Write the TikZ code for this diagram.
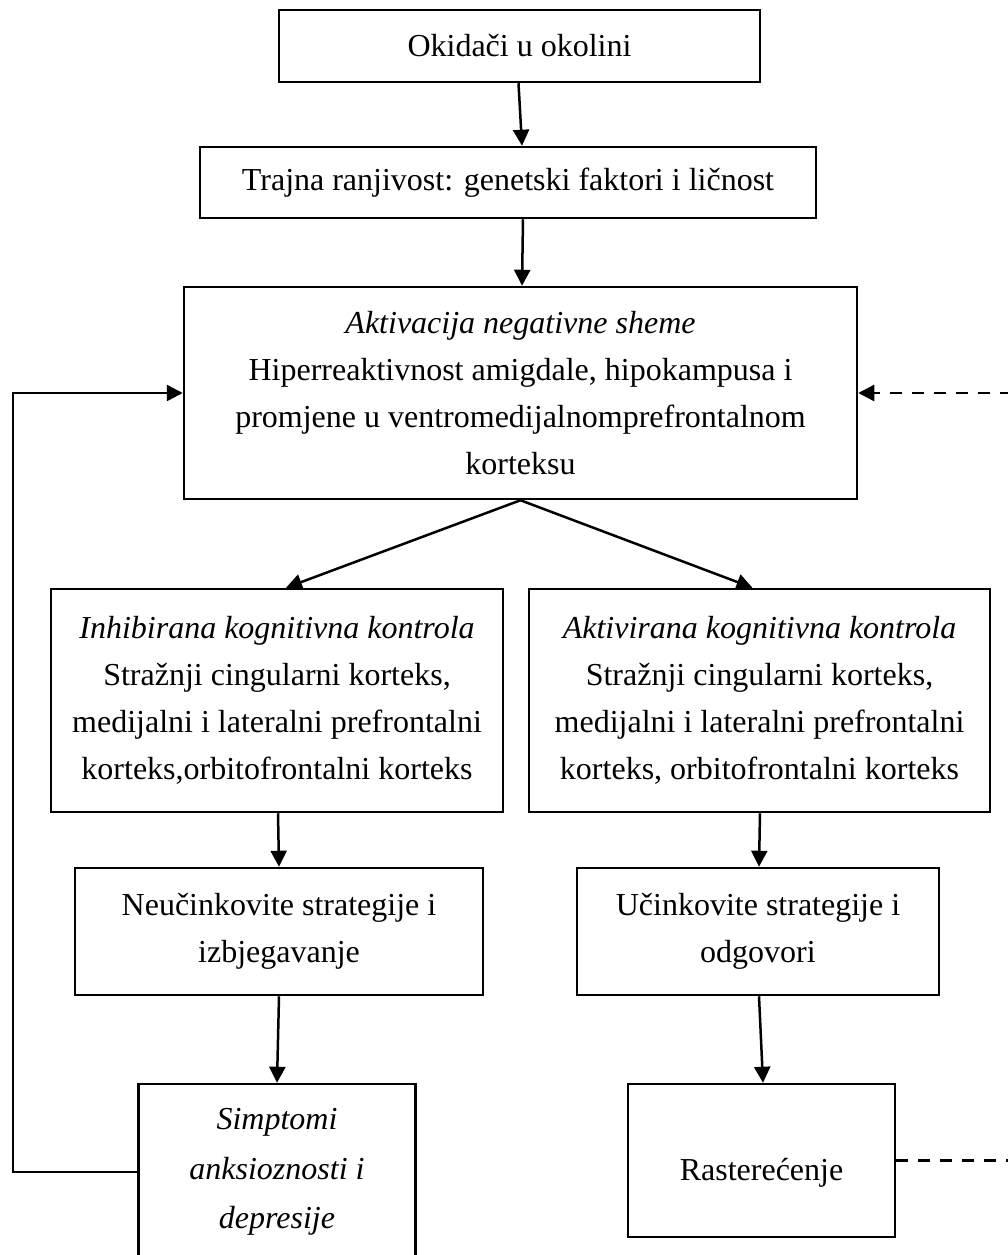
\documentclass[tikz,border=0pt]{standalone}
\usepackage{fontspec}
\setmainfont{Liberation Serif}
\usetikzlibrary{arrows.meta,calc}
\tikzset{
  box/.style={draw, line width=2.5pt, align=center, inner sep=0pt,
    font=\fontsize{32}{47}\selectfont},
  tip/.style={-{Triangle[length=16pt,width=16pt]}},
  arr/.style={line width=2.5pt, tip},
  dsh/.style={line width=2.5pt, dash pattern=on 12pt off 10pt}
}
\begin{document}
\begin{tikzpicture}[x=1pt,y=-1pt]
\path[use as bounding box, clip] (0,0) rectangle (1008,1255);
\fill[white] (0,0) rectangle (1008,1255);
% boxes: centre and size
\node[box, minimum width=481pt, minimum height=72pt] (b1) at (519.5,46) {Okidači u okolini};
\node[box, minimum width=616pt, minimum height=71pt] (b2) at (508,182.5) {Trajna ranjivost: genetski faktori i ličnost};
\node[box, minimum width=673pt, minimum height=212pt] (b3) at (520.5,393)
  {\textit{Aktivacija negativne sheme}\\Hiperreaktivnost amigdale, hipokampusa i\\promjene u ventromedijalnomprefrontalnom\\korteksu};
\node[box, minimum width=452pt, minimum height=223pt] (b4) at (277,700.5)
  {\textit{Inhibirana kognitivna kontrola}\\Stražnji cingularni korteks,\\medijalni i lateralni prefrontalni\\korteks,orbitofrontalni korteks};
\node[box, minimum width=461pt, minimum height=223pt] (b5) at (759.5,700.5)
  {\textit{Aktivirana kognitivna kontrola}\\Stražnji cingularni korteks,\\medijalni i lateralni prefrontalni\\korteks, orbitofrontalni korteks};
\node[box, minimum width=408pt, minimum height=127pt] (b6) at (279,931.5)
  {Neučinkovite strategije i\\izbjegavanje};
\node[box, minimum width=362pt, minimum height=127pt] (b7) at (758,931.5)
  {Učinkovite strategije i\\odgovori};
\node[box, minimum width=277pt, minimum height=176pt, font=\fontsize{32}{49.5}\selectfont] (b8) at (277,1172)
  {\textit{Simptomi}\\\textit{anksioznosti i}\\\textit{depresije}};
\node[box, minimum width=267pt, minimum height=153pt] (b9) at (761.5,1160.5)
  {\raisebox{0pt}[46pt][7pt]{Rasterećenje}};
% connectors
\draw[arr] ([xshift=-1pt]b1.south) -- ([xshift=2.5pt]b1.south |- b2.north);
\draw[arr] ([xshift=15pt]b2.south) -- ([xshift=14pt]b2.south |- b3.north);
\draw[arr] (b3.south) -- ([xshift=9pt]b4.north);
\draw[arr] (b3.south) -- ([xshift=-7pt]b5.north);
\draw[arr] ([xshift=1pt]b4.south) -- ([xshift=2pt]b4.south |- b6.north);
\draw[arr] ([xshift=0.5pt]b5.south) -- ([xshift=-0.5pt]b5.south |- b7.north);
\draw[arr] (b6.south) -- ([xshift=-2pt]b6.south |- b8.north);
\draw[arr] ([xshift=1pt]b7.south) -- ([xshift=5pt]b7.south |- b9.north);
% feedback loop on the left
\coordinate (lx) at (13,0);
\draw[arr] (b8.west) -- (b8.west -| lx) -- (lx |- b3.west) -- (b3.west);
% dashed return on the right
\coordinate (rx) at (1012,0);
\draw[dsh, tip] (b3.east -| rx) -- (b3.east);
\draw[dsh] (b9.east) -- (b9.east -| rx);
\end{tikzpicture}
\end{document}
